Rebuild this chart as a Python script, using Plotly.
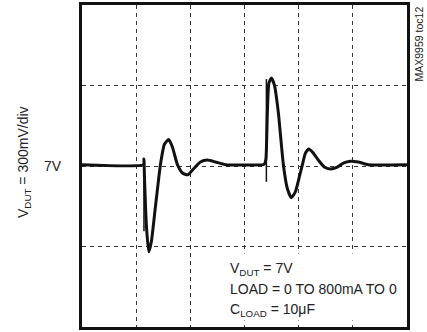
import plotly.graph_objects as go

# time in divisions, voltage in volts (300 mV/div, centre = 7 V)
t_trace = [0.0, 1.135, 1.144, 1.153, 1.190, 1.232, 1.282, 1.356, 1.448, 1.522, 1.601,
           1.670, 1.762, 1.854, 1.952, 2.057, 2.186, 2.315, 2.463, 2.647, 3.349,
           3.367, 3.395, 3.422, 3.450, 3.496, 3.552, 3.625, 3.718, 3.792, 3.865,
           3.939, 4.013, 4.068, 4.124, 4.185, 4.271, 4.363, 4.474, 4.585, 4.714,
           4.825, 4.954, 5.101, 5.286, 6.0]
v_trace = [7.005, 7.005, 7.026, 6.960, 6.775, 6.680, 6.720, 6.849, 7.005, 7.081, 7.099,
           7.070, 7.005, 6.974, 6.967, 6.989, 7.015, 7.022, 7.015, 7.005, 7.005,
           7.007, 7.026, 7.199, 7.309, 7.328, 7.302, 7.199, 7.004, 6.915, 6.882,
           6.904, 6.960, 7.004, 7.048, 7.063, 7.048, 7.022, 6.996, 6.989, 6.996,
           7.011, 7.018, 7.015, 7.005, 7.005]
t_edge1 = [1.144, 1.144]
v_edge1 = [7.026, 6.757]
t_edge2 = [3.404, 3.404]
v_edge2 = [6.941, 7.324]

x_grid = [1, 2, 3, 4, 5]
y_grid = [6.7, 7.0, 7.3]

FONT = "Arial Narrow, Liberation Sans, Arial, sans-serif"

fig = go.Figure()
fig.add_trace(go.Scatter(x=t_trace, y=v_trace, mode="lines",
                         line=dict(color="#111111", width=3, shape="spline", smoothing=0.5),
                         showlegend=False, hoverinfo="skip"))
for tx, vy in [(t_edge1, v_edge1), (t_edge2, v_edge2)]:
    fig.add_trace(go.Scatter(x=tx, y=vy, mode="lines",
                             line=dict(color="#111111", width=1.5),
                             showlegend=False, hoverinfo="skip"))

fig.update_layout(
    width=427, height=332,
    margin=dict(l=82, r=20, t=2, b=5),
    paper_bgcolor="white", plot_bgcolor="white",
    font=dict(family=FONT, size=14, color="#222222"),
    xaxis=dict(range=[0, 6], tickvals=x_grid, showticklabels=False, ticks="",
               showgrid=True, gridcolor="#333333", gridwidth=1, griddash="4px,4px",
               showline=True, linecolor="#111111", linewidth=3, mirror=True, zeroline=False),
    yaxis=dict(range=[6.4, 7.6], tickvals=y_grid, showticklabels=False, ticks="",
               showgrid=True, gridcolor="#333333", gridwidth=1, griddash="4px,4px",
               showline=True, linecolor="#111111", linewidth=3, mirror=True, zeroline=False),
    shapes=[dict(type="rect", xref="paper", yref="paper", x0=0.409, x1=0.99,
                 y0=0.02, y1=0.228, fillcolor="white", line=dict(width=0), layer="above")],
)

ann = [
    dict(text="V<sub>DUT</sub> = 300mV/div", x=0, y=0.5, xref="paper", yref="paper",
         xanchor="center", yanchor="middle", xshift=-58, yshift=4, textangle=-90,
         showarrow=False, font=dict(size=14)),
    dict(text="7V", x=0, y=7.0, xref="paper", yref="y", xanchor="right", yanchor="middle",
         xshift=-18, showarrow=False, font=dict(size=14)),
    dict(text="MAX9959 toc12", x=1, y=1, xref="paper", yref="paper", xanchor="center",
         yanchor="top", xshift=11, textangle=-90, showarrow=False, font=dict(size=10.5)),
    dict(text="V<sub>DUT</sub> = 7V", x=0.449, y=(327 - 268) / 325, xref="paper", yref="paper",
         xanchor="left", yanchor="middle", showarrow=False, font=dict(size=14)),
    dict(text="LOAD = 0 TO 800mA TO 0", x=0.449, y=(327 - 289) / 325, xref="paper", yref="paper",
         xanchor="left", yanchor="middle", showarrow=False, font=dict(size=14)),
    dict(text="C<sub>LOAD</sub> = 10μF", x=0.449, y=(327 - 310) / 325, xref="paper", yref="paper",
         xanchor="left", yanchor="middle", showarrow=False, font=dict(size=14)),
]
fig.update_layout(annotations=ann)

fig.write_html("out.html")
